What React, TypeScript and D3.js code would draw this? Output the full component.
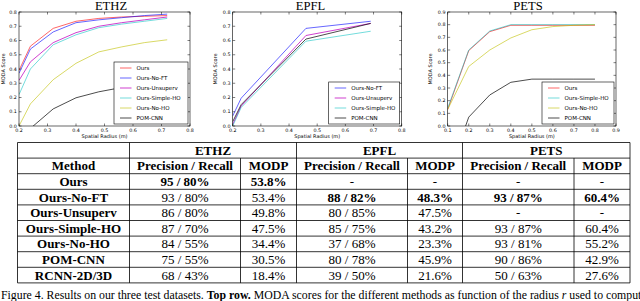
import * as d3 from 'd3';
import React from 'react';

// ---- curves (MODA score vs spatial radius) ----
const ethzRadius = [0.2, 0.24, 0.32, 0.4, 0.48, 0.56, 0.64, 0.72];
const ethzOurs = [0.39, 0.56, 0.685, 0.735, 0.755, 0.765, 0.77, 0.775];
const ethzNoFT = [0.37, 0.54, 0.66, 0.725, 0.745, 0.76, 0.775, 0.785];
const ethzUnsuperv = [0.32, 0.45, 0.585, 0.655, 0.7, 0.725, 0.745, 0.765];
const ethzSimpleHO = [0.22, 0.4, 0.57, 0.64, 0.69, 0.715, 0.735, 0.755];
const ethzNoHO = [0.0, 0.155, 0.325, 0.44, 0.52, 0.555, 0.585, 0.605];
const ethzPom = [-0.2, -0.017, 0.12, 0.198, 0.24, 0.27, 0.3, 0.32];

const epflRadius = [0.2, 0.23, 0.46, 0.69];
const epflNoFT = [0.07, 0.195, 0.685, 0.735];
const epflUnsuperv = [0.01, 0.14, 0.635, 0.72];
const epflSimpleHO = [0.0, 0.13, 0.595, 0.665];
const epflPom = [0.03, 0.15, 0.61, 0.72];

const petsRadius = [0.1, 0.2, 0.3, 0.4, 0.5, 0.6, 0.7, 0.8];
const petsOurs = [0.13, 0.595, 0.745, 0.795, 0.795, 0.795, 0.795, 0.795];
const petsSimpleHO = [0.14, 0.6, 0.75, 0.8, 0.8, 0.8, 0.8, 0.8];
const petsNoHO = [0.13, 0.47, 0.6, 0.695, 0.76, 0.785, 0.795, 0.8];
const petsPom = [-0.4, 0.07, 0.245, 0.345, 0.37, 0.37, 0.37, 0.37];

const ticks02to08 = [0.2, 0.3, 0.4, 0.5, 0.6, 0.7, 0.8];
const ticks01to09 = [0.1, 0.2, 0.3, 0.4, 0.5, 0.6, 0.7, 0.8, 0.9];
const ticks0to08 = [0, 0.1, 0.2, 0.3, 0.4, 0.5, 0.6, 0.7, 0.8];
const ticks0to09 = [0, 0.1, 0.2, 0.3, 0.4, 0.5, 0.6, 0.7, 0.8, 0.9];

// ---- table ----
const methods = ['Ours', 'Ours-No-FT', 'Ours-Unsuperv', 'Ours-Simple-HO', 'Ours-No-HO', 'POM-CNN', 'RCNN-2D/3D'];
const datasets = ['ETHZ', 'EPFL', 'PETS'];
const ethzPR = ['95 / 80%', '93 / 80%', '86 / 80%', '87 / 70%', '84 / 55%', '75 / 55%', '68 / 43%'];
const ethzMODP = ['53.8%', '53.4%', '49.8%', '47.5%', '34.4%', '30.5%', '18.4%'];
const epflPR = ['-', '88 / 82%', '80 / 85%', '85 / 75%', '37 / 68%', '80 / 78%', '39 / 50%'];
const epflMODP = ['-', '48.3%', '47.5%', '43.2%', '23.3%', '45.9%', '21.6%'];
const petsPR = ['-', '93 / 87%', '-', '93 / 87%', '93 / 81%', '90 / 86%', '50 / 63%'];
const petsMODP = ['-', '60.4%', '-', '60.4%', '55.2%', '42.9%', '27.6%'];
const bestRow = [0, 1, 1]; // bold row per dataset

const colors: Record<string, string> = {
  Ours: '#ff0000',
  'Ours-No-FT': '#0000ff',
  'Ours-Unsuperv': '#bf00bf',
  'Ours-Simple-HO': '#00bfbf',
  'Ours-No-HO': '#bfbf00',
  'POM-CNN': '#000000',
};
const alphas: Record<string, number> = {
  Ours: 0.6,
  'Ours-No-FT': 0.6,
  'Ours-Unsuperv': 0.75,
  'Ours-Simple-HO': 0.55,
  'Ours-No-HO': 0.6,
  'POM-CNN': 0.7,
};

const sans = 'DejaVu Sans';
const serif = '"Liberation Serif", "Times New Roman", serif';
const PT = 12;
const PB = 126;

type Series = { name: string; xs: number[]; ys: number[] };
type PlotCfg = {
  id: string;
  title: string;
  titleX: number;
  left: number;
  right: number;
  yLabelX: number;
  xDomain: [number, number];
  yDomain: [number, number];
  xTicks: number[];
  yTicks: number[];
  legendW: number;
  series: Series[];
};

const plots: PlotCfg[] = [
  {
    id: 'ethz', title: 'ETHZ', titleX: 111, left: 19, right: 190, yLabelX: 5,
    xDomain: [0.2, 0.8], yDomain: [0, 0.8], xTicks: ticks02to08, yTicks: ticks0to08, legendW: 74,
    series: [
      { name: 'Ours', xs: ethzRadius, ys: ethzOurs },
      { name: 'Ours-No-FT', xs: ethzRadius, ys: ethzNoFT },
      { name: 'Ours-Unsuperv', xs: ethzRadius, ys: ethzUnsuperv },
      { name: 'Ours-Simple-HO', xs: ethzRadius, ys: ethzSimpleHO },
      { name: 'Ours-No-HO', xs: ethzRadius, ys: ethzNoHO },
      { name: 'POM-CNN', xs: ethzRadius, ys: ethzPom },
    ],
  },
  {
    id: 'epfl', title: 'EPFL', titleX: 310.5, left: 232.7, right: 401.7, yLabelX: 216.7,
    xDomain: [0.2, 0.8], yDomain: [0, 0.8], xTicks: ticks02to08, yTicks: ticks0to08, legendW: 71,
    series: [
      { name: 'Ours-No-FT', xs: epflRadius, ys: epflNoFT },
      { name: 'Ours-Unsuperv', xs: epflRadius, ys: epflUnsuperv },
      { name: 'Ours-Simple-HO', xs: epflRadius, ys: epflSimpleHO },
      { name: 'POM-CNN', xs: epflRadius, ys: epflPom },
    ],
  },
  {
    id: 'pets', title: 'PETS', titleX: 528, left: 447.7, right: 616, yLabelX: 431.7,
    xDomain: [0.1, 0.9], yDomain: [0, 0.9], xTicks: ticks01to09, yTicks: ticks0to09, legendW: 72,
    series: [
      { name: 'Ours', xs: petsRadius, ys: petsOurs },
      { name: 'Ours-Simple-HO', xs: petsRadius, ys: petsSimpleHO },
      { name: 'Ours-No-HO', xs: petsRadius, ys: petsNoHO },
      { name: 'POM-CNN', xs: petsRadius, ys: petsPom },
    ],
  },
];

function Plot({ p }: { p: PlotCfg }) {
  const x = d3.scaleLinear().domain(p.xDomain).range([p.left, p.right]);
  const y = d3.scaleLinear().domain(p.yDomain).range([PB, PT]);
  const line = d3
    .line<[number, number]>()
    .x((d) => x(d[0]))
    .y((d) => y(d[1]));
  const tk = 2.5;
  const n = p.series.length;
  const lh = 10;
  const lgH = n * lh + 2;
  const lgR = p.right - 2;
  const lgB = PB - 2;
  const lgL = lgR - p.legendW;
  const lgT = lgB - lgH;
  const fmt = d3.format('.1f');

  return (
    <g>
      <defs>
        <clipPath id={`clip-${p.id}`}>
          <rect x={p.left} y={PT} width={p.right - p.left} height={PB - PT} />
        </clipPath>
      </defs>
      <text x={p.titleX} y={10} textAnchor="middle" fontFamily={serif} fontSize={12.6}>
        {p.title}
      </text>
      <g clipPath={`url(#clip-${p.id})`}>
        {p.series.map((s) => (
          <path
            key={s.name}
            d={line(s.xs.map((v, i) => [v, s.ys[i]] as [number, number])) || ''}
            fill="none"
            stroke={colors[s.name]}
            strokeOpacity={alphas[s.name]}
            strokeWidth={1}
          />
        ))}
      </g>
      <rect x={p.left} y={PT} width={p.right - p.left} height={PB - PT} fill="none" stroke="#000" strokeWidth={0.6} />
      {p.xTicks.map((t) => (
        <g key={`x${t}`}>
          <line x1={x(t)} x2={x(t)} y1={PB} y2={PB - tk} stroke="#000" strokeWidth={0.5} />
          <line x1={x(t)} x2={x(t)} y1={PT} y2={PT + tk} stroke="#000" strokeWidth={0.5} />
          <text x={x(t)} y={131.5} textAnchor="middle" fontFamily={sans} fontSize={4.8}>
            {fmt(t)}
          </text>
        </g>
      ))}
      {p.yTicks.map((t) => (
        <g key={`y${t}`}>
          <line x1={p.left} x2={p.left + tk} y1={y(t)} y2={y(t)} stroke="#000" strokeWidth={0.5} />
          <line x1={p.right} x2={p.right - tk} y1={y(t)} y2={y(t)} stroke="#000" strokeWidth={0.5} />
          <text x={p.left - 2.2} y={y(t) + 1.7} textAnchor="end" fontFamily={sans} fontSize={4.8}>
            {fmt(t)}
          </text>
        </g>
      ))}
      <text x={(p.left + p.right) / 2} y={138} textAnchor="middle" fontFamily={sans} fontSize={5}>
        Spatial Radius (m)
      </text>
      <text
        transform={`translate(${p.yLabelX},${(PT + PB) / 2}) rotate(-90)`}
        textAnchor="middle"
        fontFamily={sans}
        fontSize={5}
      >
        MODA Score
      </text>
      <rect x={lgL} y={lgT} width={p.legendW} height={lgH} fill="#fff" stroke="#000" strokeWidth={0.6} />
      {p.series.map((s, i) => {
        const cy = lgT + 6 + i * lh;
        return (
          <g key={`lg${s.name}`}>
            <line
              x1={lgL + 6}
              x2={lgL + 17.5}
              y1={cy}
              y2={cy}
              stroke={colors[s.name]}
              strokeOpacity={alphas[s.name]}
              strokeWidth={1}
            />
            <text x={lgL + 22.5} y={cy + 2} fontFamily={sans} fontSize={5.5}>
              {s.name}
            </text>
          </g>
        );
      })}
    </g>
  );
}

// table layout
const colEdges = [17.5, 129.5, 240.5, 296.5, 407.5, 462.5, 574, 630];
const tableTop = 142.5;
const rowH = 15.6;

function Table() {
  const cols = [ethzPR, ethzMODP, epflPR, epflMODP, petsPR, petsMODP];
  const nRows = methods.length + 2;
  const bottom = tableTop + nRows * rowH;
  const cx = (i: number) => (colEdges[i] + colEdges[i + 1]) / 2;
  const base = (r: number) => tableTop + r * rowH + rowH / 2 + 4.4;
  const stroke = { stroke: '#000', strokeWidth: 0.8 };
  return (
    <g fontFamily={serif} fontSize={13}>
      {d3.range(nRows + 1).map((r) => (
        <line key={`h${r}`} x1={colEdges[0]} x2={colEdges[7]} y1={tableTop + r * rowH} y2={tableTop + r * rowH} {...stroke} />
      ))}
      {colEdges.map((e, i) => {
        // inner P/R | MODP separators do not cross the dataset header row
        const inner = i === 2 || i === 4 || i === 6;
        return <line key={`v${i}`} x1={e} x2={e} y1={inner ? tableTop + rowH : tableTop} y2={bottom} {...stroke} />;
      })}
      {datasets.map((d, k) => (
        <text key={d} x={(colEdges[1 + 2 * k] + colEdges[3 + 2 * k]) / 2} y={base(0)} textAnchor="middle" fontWeight={700}>
          {d}
        </text>
      ))}
      <text x={cx(0)} y={base(1)} textAnchor="middle" fontWeight={700}>
        Method
      </text>
      {datasets.map((d, k) => (
        <g key={`sub${d}`} fontWeight={700}>
          <text x={cx(1 + 2 * k)} y={base(1)} textAnchor="middle">
            Precision / Recall
          </text>
          <text x={cx(2 + 2 * k)} y={base(1)} textAnchor="middle">
            MODP
          </text>
        </g>
      ))}
      {methods.map((m, r) => (
        <g key={m}>
          <text x={cx(0)} y={base(r + 2)} textAnchor="middle" fontWeight={700}>
            {m}
          </text>
          {cols.map((c, ci) => (
            <text
              key={ci}
              x={cx(ci + 1)}
              y={base(r + 2)}
              textAnchor="middle"
              fontWeight={bestRow[Math.floor(ci / 2)] === r ? 700 : 400}
            >
              {c[r]}
            </text>
          ))}
        </g>
      ))}
    </g>
  );
}

export default function App() {
  return (
    <svg width={640} height={301} style={{ position: 'absolute', left: 0, top: 0, background: '#fff' }}>
      <rect width={640} height={301} fill="#fff" />
      {plots.map((p) => (
        <Plot key={p.id} p={p} />
      ))}
      <Table />
      <text x={1} y={298.5} fontFamily={serif} fontSize={11.8}>
        Figure 4. Results on our three test datasets. <tspan fontWeight={700}>Top row.</tspan> MODA scores for the
        different methods as function of the radius <tspan fontStyle="italic">r</tspan> used to comput
      </text>
    </svg>
  );
}
